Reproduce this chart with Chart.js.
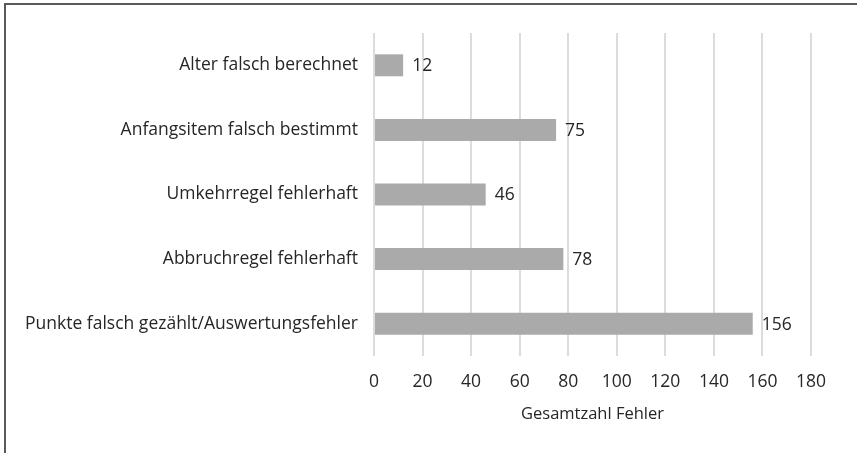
<!DOCTYPE html>
<html>
<head>
<meta charset="utf-8">
<script src="https://cdn.jsdelivr.net/npm/chart.js@4"></script>
<style>
  html, body { margin: 0; padding: 0; background: #fff; }
  #wrap { position: absolute; left: 0; top: 0; width: 857px; height: 453px; }
  #frame { position: absolute; left: 4px; top: 3px; width: 860px; height: 460px;
           border-left: 2px solid #595959; border-top: 2px solid #595959; pointer-events: none; }
  canvas { position: absolute; left: 0; top: 0; }
</style>
</head>
<body>
<div id="wrap">
  <canvas id="c" width="857" height="453"></canvas>
  <div id="frame"></div>
</div>
<script>
const categories = [
  "Alter falsch berechnet",
  "Anfangsitem falsch bestimmt",
  "Umkehrregel fehlerhaft",
  "Abbruchregel fehlerhaft",
  "Punkte falsch gezählt/Auswertungsfehler"
];
const errorCounts = [12, 75, 46, 78, 156];
const xTickValues = [0, 20, 40, 60, 80, 100, 120, 140, 160, 180];
const xAxisTitle = "Gesamtzahl Fehler";

const FONT = "'Open Sans', 'Liberation Sans', Arial, sans-serif";
const TEXT = "#262626";

const valueLabels = {
  id: 'valueLabels',
  afterDatasetsDraw(chart) {
    const ctx = chart.ctx;
    const meta = chart.getDatasetMeta(0);
    ctx.save();
    ctx.font = "17.5px " + FONT;
    ctx.fillStyle = TEXT;
    ctx.textAlign = 'left';
    ctx.textBaseline = 'middle';
    meta.data.forEach((bar, i) => {
      ctx.fillText(String(chart.data.datasets[0].data[i]), bar.x + 9, bar.y + 1);
    });
    ctx.restore();
  }
};

new Chart(document.getElementById('c'), {
  type: 'bar',
  data: {
    labels: categories,
    datasets: [{
      data: errorCounts,
      backgroundColor: '#aaaaaa',
      borderWidth: 0,
      categoryPercentage: 1.0,
      barPercentage: 0.34
    }]
  },
  options: {
    indexAxis: 'y',
    responsive: false,
    animation: false,
    devicePixelRatio: 1,
    layout: { padding: { left: 0, right: 46, top: 33, bottom: 29 } },
    plugins: { legend: { display: false }, tooltip: { enabled: false } },
    scales: {
      x: {
        min: 0, max: 180,
        afterBuildTicks(scale) { scale.ticks = xTickValues.map(v => ({ value: v })); },
        afterFit(scale) { scale.height = 68; },
        grid: { color: '#dcdcdc', lineWidth: 2, drawTicks: false },
        border: { display: false },
        ticks: { font: { family: FONT, size: 17.5, lineHeight: 1 }, color: TEXT, padding: 17, maxRotation: 0 },
        title: { display: true, text: xAxisTitle, font: { family: FONT, size: 16.5 }, color: TEXT, padding: { top: 0, bottom: 0 } }
      },
      y: {
        afterFit(scale) { scale.width = 374; },
        grid: { display: false, drawTicks: false },
        border: { display: false },
        ticks: { font: { family: FONT, size: 17.5 }, color: TEXT, padding: 16 }
      }
    }
  },
  plugins: [valueLabels]
});
</script>
</body>
</html>
